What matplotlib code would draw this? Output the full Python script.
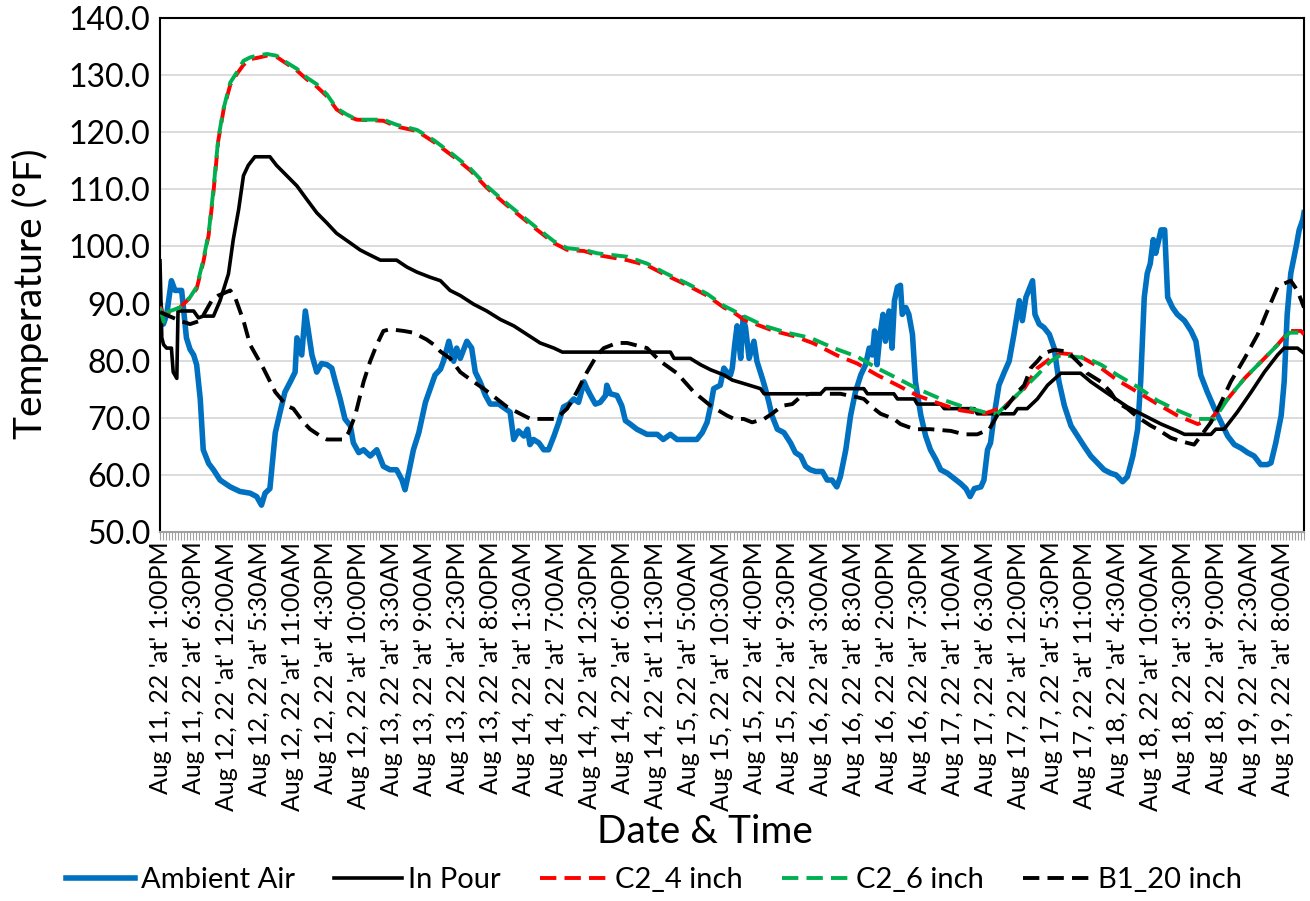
import matplotlib
matplotlib.use("Agg")
import matplotlib.pyplot as plt
import numpy as np

plt.rcParams['font.family'] = ['Lato', 'DejaVu Sans']

# ---- category labels (every 11th half-hour sample) ----
tick_labels = ["Aug 11, 22 'at' 1:00PM", "Aug 11, 22 'at' 6:30PM", "Aug 12, 22 'at' 12:00AM",
               "Aug 12, 22 'at' 5:30AM", "Aug 12, 22 'at' 11:00AM", "Aug 12, 22 'at' 4:30PM",
               "Aug 12, 22 'at' 10:00PM", "Aug 13, 22 'at' 3:30AM", "Aug 13, 22 'at' 9:00AM",
               "Aug 13, 22 'at' 2:30PM", "Aug 13, 22 'at' 8:00PM", "Aug 14, 22 'at' 1:30AM",
               "Aug 14, 22 'at' 7:00AM", "Aug 14, 22 'at' 12:30PM", "Aug 14, 22 'at' 6:00PM",
               "Aug 14, 22 'at' 11:30PM", "Aug 15, 22 'at' 5:00AM", "Aug 15, 22 'at' 10:30AM",
               "Aug 15, 22 'at' 4:00PM", "Aug 15, 22 'at' 9:30PM", "Aug 16, 22 'at' 3:00AM",
               "Aug 16, 22 'at' 8:30AM", "Aug 16, 22 'at' 2:00PM", "Aug 16, 22 'at' 7:30PM",
               "Aug 17, 22 'at' 1:00AM", "Aug 17, 22 'at' 6:30AM", "Aug 17, 22 'at' 12:00PM",
               "Aug 17, 22 'at' 5:30PM", "Aug 17, 22 'at' 11:00PM", "Aug 18, 22 'at' 4:30AM",
               "Aug 18, 22 'at' 10:00AM", "Aug 18, 22 'at' 3:30PM", "Aug 18, 22 'at' 9:00PM",
               "Aug 19, 22 'at' 2:30AM", "Aug 19, 22 'at' 8:00AM"]
sample_step_h = 0.5
label_every = 11
n_samples = 382

# ---- series: hours since Aug 11 1:00PM, temperature (F) ----
amb_t = [0, 0.56, 1.1, 1.9, 2.5, 3.6, 3.9, 4.4, 5.0, 5.6, 6.1, 6.7, 7.2, 8.1, 8.9, 10, 11.7, 13.3, 15,
         16.1, 16.9, 17.5, 18.3, 19.2, 20, 20.8, 21.7, 22.5, 22.8, 23.6, 24.2, 24.7, 25.3, 26.1, 26.9,
         27.8, 28.6, 29.2, 30, 30.8, 31.7, 32.2, 33.1, 33.9, 35, 36.1, 37.2, 38.3, 39.4, 40.3, 40.8,
         41.4, 42.2, 43.1, 43.6, 44.2, 45, 45.8, 46.7, 47.2, 48.1, 48.9, 49.4, 50, 51.1, 51.9, 52.5,
         53.3, 54.2, 55, 56.4, 57.5, 58.3, 58.9, 59.7, 60.6, 61.2, 61.6, 62.2, 63.1, 63.9, 64.7, 65.6,
         66.4, 67.2, 68.1, 68.9, 69.7, 70.6, 71.1, 71.7, 72.5, 73.3, 74.2, 74.4, 75, 76.1, 76.9, 77.5,
         78.3, 79.4, 81.1, 82.8, 83.8, 85, 86.1, 89.4, 90.3, 91.1, 91.7, 92.2, 93.3, 93.9, 94.4, 95.0,
         95.3, 95.7, 96.1, 96.7, 97.1, 97.5, 98.1, 98.9, 99.4, 100.3, 100.8, 101.4, 101.9, 102.8,
         103.9, 105, 105.8, 106.7, 107.5, 108.3, 109.2, 110.3, 111.1, 111.9, 112.7, 113.3, 114.2, 115,
         115.8, 116.7, 117.5, 118.1, 118.6, 119, 119.4, 119.9, 120.4, 120.8, 121.4, 121.9, 122.3,
         122.8, 123.3, 123.6, 124.2, 124.7, 125.3, 125.8, 126.7, 127.5, 128.3, 129.2, 130, 131.1,
         132.2, 133.3, 134.2, 134.9, 135.6, 136.7, 137.2, 137.8, 138.3, 138.9, 139.7, 140.6, 141.4,
         142.2, 143.1, 143.6, 144.2, 145.3, 145.7, 146.4, 147.2, 148.1, 148.9, 149.7, 150.6, 151.7,
         152.8, 153.9, 155, 156.1, 157.2, 158.3, 159.2, 160.3, 161.1, 162, 162.8, 163.3, 163.9, 164.4,
         164.9, 165.4, 165.8, 166.2, 166.7, 167.3, 167.8, 168.6, 169.4, 170.6, 171.7, 172.5, 173.3,
         174.4, 175.6, 176.7, 177.8, 178.9, 180, 181.1, 182.2, 183.3, 184.4, 185, 185.8, 186.7, 187.2,
         187.7, 188.3, 189.2, 189.7, 190.3, 190.5]
amb_v = [89.9, 86.4, 88.0, 94.0, 92.3, 92.3, 89.3, 84.0, 82.0, 81.0, 79.3, 73.3, 64.4, 62.0, 60.9, 59.1,
         57.9, 57.1, 56.8, 56.2, 54.7, 56.8, 57.6, 67.4, 71.0, 74.5, 76.3, 78.0, 84.0, 81.0, 88.7, 85.2,
         81.0, 78.0, 79.5, 79.3, 78.7, 76.3, 73.3, 69.8, 68.6, 65.6, 63.9, 64.4, 63.3, 64.4, 61.5, 60.9,
         60.9, 59.1, 57.4, 60.3, 64.4, 67.4, 69.8, 72.7, 75.1, 77.5, 78.5, 79.9, 83.4, 79.9, 82.2, 80.4,
         83.4, 82.2, 78.0, 76.3, 73.9, 72.4, 72.4, 71.6, 71.0, 66.2, 67.7, 66.8, 68.0, 65.3, 66.2, 65.6,
         64.4, 64.4, 66.8, 69.2, 71.9, 72.4, 73.3, 72.7, 76.3, 75.1, 73.9, 72.4, 72.7, 73.9, 75.7, 74.2,
         73.9, 72.1, 69.5, 68.9, 68.0, 67.1, 67.1, 66.2, 67.1, 66.2, 66.2, 67.4, 69.2, 72.1, 75.1, 75.7,
         78.7, 78.0, 77.5, 78.7, 82.8, 86.1, 80.4, 87.5, 85.8, 80.4, 83.4, 79.9, 76.9, 75.1, 72.7, 70.4,
         68.0, 67.4, 65.6, 63.9, 63.3, 61.5, 60.9, 60.6, 60.6, 59.1, 59.1, 57.9, 59.7, 64.4, 70.4, 74.5,
         77.5, 79.3, 82.2, 81.0, 85.2, 79.3, 84.6, 88.1, 83.4, 88.7, 82.2, 90.5, 92.9, 93.2, 88.1, 89.3,
         88.1, 84.6, 76.3, 70.4, 66.8, 64.4, 62.7, 60.9, 60.3, 59.4, 58.5, 57.6, 56.2, 57.6, 57.9, 59.1,
         64.4, 65.6, 70.4, 75.7, 78.0, 79.9, 84.6, 90.5, 87.0, 91.1, 94.0, 88.1, 86.4, 85.8, 84.6, 82.2,
         76.3, 72.1, 68.6, 66.8, 65.0, 63.3, 62.1, 60.9, 60.3, 60.0, 58.8, 59.7, 63.3, 68.0, 76.3, 91.1,
         95.3, 97.0, 101.2, 98.8, 100.6, 102.9, 102.9, 91.1, 89.3, 88.1, 87.0, 85.2, 83.4, 77.5, 74.5,
         71.6, 69.2, 66.8, 65.3, 64.7, 63.9, 63.3, 61.8, 61.8, 62.1, 65.6, 70.4, 76.3, 88.1, 95.3, 100.0,
         102.9, 104.7, 105.9]

pour_t = [0, 0.3, 0.6, 1.1, 1.9, 2.2, 2.8, 3.0, 5.6, 6.4, 7.2, 8.9, 10, 11.4, 12.2, 13.1, 13.9, 14.7,
          15.8, 18.3, 19.4, 21.1, 22.8, 24.4, 26.1, 27.8, 29.4, 31.7, 33.3, 34.4, 36.7, 39.4, 41.1, 42.8,
          45, 46.7, 48.3, 50, 52.2, 54.4, 56.7, 58.9, 61.1, 63.3, 65.6, 67, 85, 85.6, 88.3, 90, 91.7, 93.9,
          95.3, 97.2, 100, 100.6, 110, 110.8, 117.2, 117.8, 122.2, 122.8, 125.6, 126.1, 130, 130.6, 135.6,
          136.1, 142.2, 142.8, 144.4, 146.1, 147.8, 150, 153.3, 155, 158.3, 161.1, 163.9, 166.7, 169.4,
          170.6, 175, 175.8, 177.2, 179.4, 181.7, 183.9, 186.1, 187.2, 189.4, 190.5]
pour_v = [97.5, 84.0, 82.8, 82.2, 82.2, 78.0, 76.9, 88.7, 88.7, 87.5, 87.8, 87.8, 90.5, 95.2, 101.2,
          106.5, 112.4, 114.2, 115.7, 115.7, 114.2, 112.4, 110.6, 108.3, 105.9, 104.1, 102.3, 100.6, 99.4,
          98.8, 97.6, 97.6, 96.4, 95.5, 94.6, 94.0, 92.3, 91.4, 89.9, 88.7, 87.2, 86.1, 84.6, 83.1, 82.2,
          81.5, 81.5, 80.4, 80.4, 79.3, 78.4, 77.5, 76.6, 76.0, 75.1, 74.2, 74.2, 75.1, 75.1, 74.2, 74.2,
          73.3, 73.3, 72.4, 72.4, 71.6, 71.6, 70.7, 70.7, 71.6, 71.6, 73.3, 75.7, 77.8, 77.8, 76.3, 73.9,
          71.9, 70.4, 68.9, 67.7, 67.1, 67.1, 68.0, 68.0, 71.0, 74.5, 78.0, 81.0, 82.2, 82.2, 81.3]

c4_t = [0, 0.6, 3.3, 5.0, 6.1, 7.2, 8.1, 8.9, 9.7, 10.6, 11.7, 12.8, 13.9, 15, 16.1, 17.8, 19.4, 21.1,
        22.8, 24.4, 26.1, 27.8, 29.4, 31.1, 32.8, 37.2, 39.4, 42.8, 45.6, 48.9, 51.7, 54.4, 57.2, 60,
        62.8, 65.6, 67.8, 70.6, 72.8, 77.8, 81.1, 84.4, 87.8, 91.1, 93.9, 95.6, 97.2, 102.2, 105.6,
        108.9, 112.8, 116.1, 119.4, 122.8, 126.1, 130, 133.3, 137.2, 140.6, 143.9, 146.1, 148.3, 150,
        152.8, 156.7, 159.4, 162.8, 166.1, 169.4, 172.8, 175, 177.8, 180.6, 183.9, 186.1, 188.1, 190,
        190.5]
c4_v = [89.5, 88.0, 89.3, 91.0, 92.6, 97.2, 102.0, 109.5, 118.5, 124.0, 128.3, 130.2, 131.8, 132.8,
        133.0, 133.4, 133.2, 132.0, 130.8, 129.3, 128.0, 126.3, 124.0, 122.8, 122.2, 122.0, 121.0, 120.2,
        118.3, 115.7, 113.3, 110.3, 107.7, 105.3, 102.9, 100.6, 99.4, 99.2, 98.5, 97.6, 96.7, 94.9, 93.2,
        91.4, 89.3, 88.4, 87.2, 85.2, 84.3, 83.0, 80.9, 79.5, 77.5, 75.7, 73.9, 72.4, 71.3, 70.7, 71.9,
        75.1, 78.7, 80.4, 81.3, 81.0, 78.7, 76.6, 74.5, 72.4, 70.4, 68.9, 69.8, 73.3, 76.9, 80.4, 82.8,
        85.2, 85.2, 84.6]

c6_t = [0, 0.6, 1.2, 3.3, 5.0, 6.1, 7.2, 8.1, 8.9, 9.7, 10.6, 11.7, 12.8, 13.9, 15, 16.1, 17.8, 19.4,
        21.1, 22.8, 24.4, 26.1, 27.8, 29.4, 31.1, 32.8, 37.2, 39.4, 42.8, 45.6, 48.9, 51.7, 54.4, 57.2,
        60, 62.8, 65.6, 67.8, 70.6, 72.8, 77.8, 81.1, 84.4, 87.8, 91.1, 93.9, 95.6, 97.2, 100.6, 104.4,
        108.3, 112.2, 116.1, 119.4, 122.8, 126.1, 130, 133.3, 137.2, 139.4, 141.1, 143.3, 146.1, 148.3,
        150, 154.4, 156.7, 159.4, 162.8, 166.1, 169.4, 172.8, 175.6, 177.8, 180.6, 183.9, 186.7, 188.1,
        190, 190.5]
c6_v = [89.3, 86.8, 88.5, 89.3, 91.1, 92.9, 97.6, 102.3, 110.0, 118.9, 124.2, 128.7, 130.5, 132.5,
        133.1, 133.4, 133.7, 133.4, 132.2, 131.1, 129.6, 128.4, 126.6, 124.2, 123.1, 122.2, 122.2, 121.3,
        120.4, 118.6, 116.0, 113.6, 110.6, 108.0, 105.6, 103.2, 100.9, 99.7, 99.4, 98.8, 98.2, 97.0,
        95.2, 93.5, 91.7, 89.6, 88.7, 87.8, 86.1, 84.9, 84.0, 82.2, 80.7, 78.7, 76.9, 75.1, 73.3, 72.1,
        71.0, 70.7, 72.4, 74.6, 77.5, 79.9, 81.0, 80.4, 79.3, 77.5, 75.4, 73.0, 71.3, 69.8, 69.8, 73.3,
        76.9, 80.4, 83.4, 84.9, 84.9, 84.3]

b1_t = [0, 3.3, 5.0, 6.7, 8.6, 9.7, 11.7, 12.5, 13.9, 15, 17.2, 19.2, 21.1, 22.2, 23.9, 25, 26.7, 27.8,
        30.6, 31.4, 32.5, 33.9, 35, 36.1, 37.2, 38.3, 40.6, 42.2, 44.4, 45.6, 46.7, 48.3, 50, 52.2, 53.9,
        56.1, 57.8, 60, 61.7, 65.9, 67.8, 69.4, 71.1, 72.8, 73.9, 76.1, 77.8, 80, 81.1, 83.3, 86.1, 88.9,
        91.7, 94.4, 95.6, 97.2, 98.6, 100.6, 101.9, 103.6, 105.3, 106.9, 108.3, 113.3, 116.1, 117.2,
        118.9, 120, 122.2, 123.3, 125.6, 128.3, 131.7, 133.9, 136.1, 138.1, 139.4, 141.1, 142.8, 143.9,
        145, 146.1, 147.2, 148.9, 151.1, 153.3, 154.4, 156.7, 158.3, 159.4, 161.1, 162.8, 165, 166.1,
        168.3, 170, 172.2, 173.3, 175, 176.7, 178.3, 180.6, 182.8, 184.4, 186.1, 187.2, 188.3, 189.4,
        190.5]
b1_v = [88.5, 87.0, 86.4, 87.0, 90.5, 91.4, 92.3, 91.1, 87.0, 82.8, 78.7, 74.5, 72.1, 71.6, 69.2, 68.0,
        66.8, 66.2, 66.2, 67.4, 70.4, 76.3, 79.9, 82.8, 85.2, 85.5, 85.2, 84.9, 83.7, 82.8, 81.6, 80.4,
        78.0, 76.3, 75.1, 73.3, 71.9, 70.7, 69.8, 69.8, 71.6, 74.5, 78.0, 81.0, 82.2, 83.1, 83.1, 82.5,
        82.2, 79.9, 77.8, 74.5, 72.1, 70.4, 69.8, 69.8, 69.2, 69.8, 70.7, 72.1, 72.4, 73.9, 74.2, 74.2,
        73.6, 73.3, 71.6, 70.7, 69.8, 68.9, 68.0, 68.0, 67.7, 67.1, 67.1, 68.0, 70.4, 72.1, 74.5, 75.7,
        78.7, 79.9, 81.3, 81.9, 81.6, 79.3, 77.8, 76.3, 74.5, 72.7, 71.6, 70.1, 68.6, 68.0, 66.5, 65.9,
        65.3, 66.8, 69.2, 72.7, 76.3, 80.4, 84.6, 88.7, 92.9, 93.5, 94.0, 92.3, 89.3]

# ---- figure ----
W, H = 1310, 901
fig = plt.figure(figsize=(W / 100, H / 100), dpi=100)
ax = fig.add_axes([160 / W, 1 - 532 / H, (1304 - 160) / W, (532 - 18) / H])

dash = (4.2, 2.1)
ax.plot(amb_t, amb_v, color='#0070C0', lw=4.0, solid_joinstyle='round', label='Ambient Air', zorder=2)
ax.plot(pour_t, pour_v, color='black', lw=2.6, label='In Pour', zorder=3)
ax.plot(c4_t, c4_v, color='#FF0000', lw=2.8, dashes=dash, label='C2_4 inch', zorder=4)
ax.plot(c6_t, c6_v, color='#00B050', lw=2.8, dashes=dash, label='C2_6 inch', zorder=5)
ax.plot(b1_t, b1_v, color='black', lw=2.8, dashes=dash, label='B1_20 inch', zorder=6)

t_end = (n_samples - 1) * sample_step_h
ax.set_xlim(0, t_end)
ax.set_ylim(50, 140)
ax.set_yticks(np.arange(50, 141, 10))
ax.set_yticklabels([f'{v:.1f}' for v in np.arange(50, 141, 10)])
ax.yaxis.grid(True, color='#D9D9D9', lw=1.3)
ax.set_axisbelow(True)

major = [i * label_every * sample_step_h for i in range(len(tick_labels))]
ax.set_xticks(major)
ax.set_xticklabels(tick_labels, rotation=90, ha='center', va='top')
ax.set_xticks(np.arange(n_samples) * sample_step_h, minor=True)
ax.tick_params(axis='x', which='both', length=6, width=0.8, color='#A0A0A0', pad=1,
               labelsize=18, direction='out')
ax.tick_params(axis='y', length=0, labelsize=23, pad=7)

for s in ['left', 'top', 'right']:
    ax.spines[s].set_color('black')
    ax.spines[s].set_linewidth(1.5)
ax.spines['bottom'].set_color('#A0A0A0')
ax.spines['bottom'].set_linewidth(1.5)

fig.text(705 / W, 1 - 832 / H, 'Date & Time', ha='center', va='center', fontsize=28)
fig.text(30 / W, 1 - 294 / H, 'Temperature (°F)', ha='center', va='center', rotation=90, fontsize=28)

fig.legend(loc='center', bbox_to_anchor=(654 / W, 1 - 880 / H), ncol=5, frameon=False,
           fontsize=21, handlelength=2.35, handletextpad=0.2, columnspacing=1.35)

fig.savefig('out.png', dpi=100)
